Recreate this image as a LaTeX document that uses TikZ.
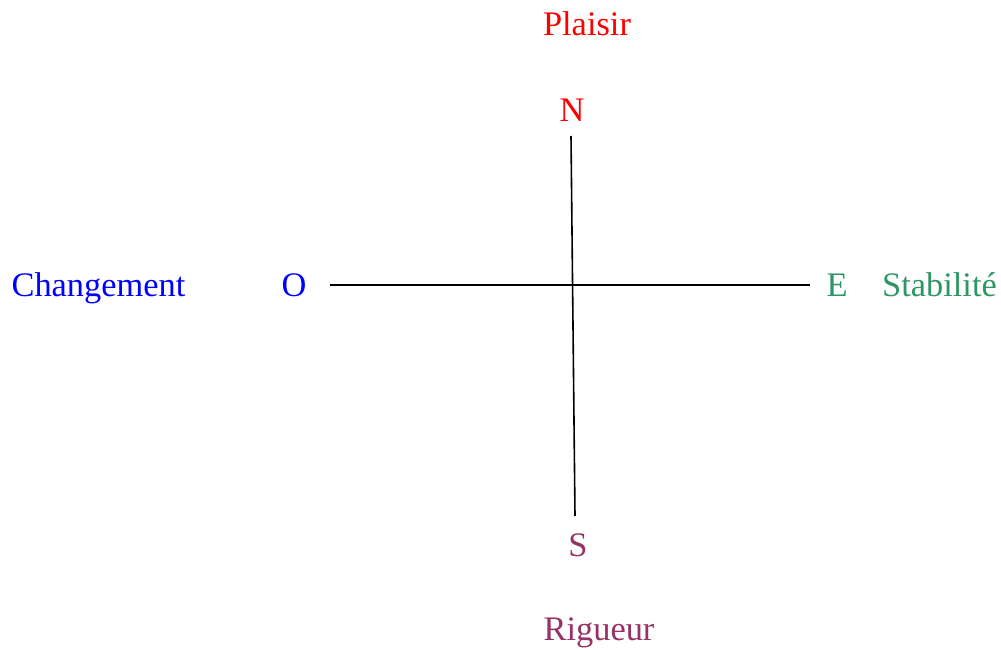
\documentclass[tikz,border=0pt]{standalone}
\usepackage{fontspec}
\setmainfont{Liberation Serif}
\definecolor{cN}{RGB}{255,0,0}
\definecolor{cO}{RGB}{0,0,255}
\definecolor{cE}{RGB}{46,150,100}
\definecolor{cS}{RGB}{150,50,100}
\begin{document}
\begin{tikzpicture}[x=1pt,y=-1pt,
  lbl/.style={anchor=base,inner sep=0pt,font=\fontsize{34.4}{38}\selectfont},
  axis/.style={line width=1.6pt,black}]
\useasboundingbox (0,0) rectangle (1001,650);
\node[lbl,text=cN] (plaisir) at (587,36) {Plaisir};
\node[lbl,text=cN] (n) at (572,122) {N};
\node[lbl,text=cO] (chg) at (98.5,296) {Changement};
\node[lbl,text=cO] (o) at (294,296) {O};
\node[lbl,text=cE] (e) at (837,296) {E};
\node[lbl,text=cE] (stab) at (939.5,296) {Stabilité};
\node[lbl,text=cS] (s) at (578,556) {S};
\node[lbl,text=cS] (rig) at (599,640) {Rigueur};
\coordinate (top) at (571,136);
\coordinate (bot) at (575,516);
\coordinate (left) at (330,285);
\coordinate (right) at (810,285);
\draw[axis] (top) -- (bot);
\draw[axis] (left) -- (right);
\end{tikzpicture}
\end{document}
